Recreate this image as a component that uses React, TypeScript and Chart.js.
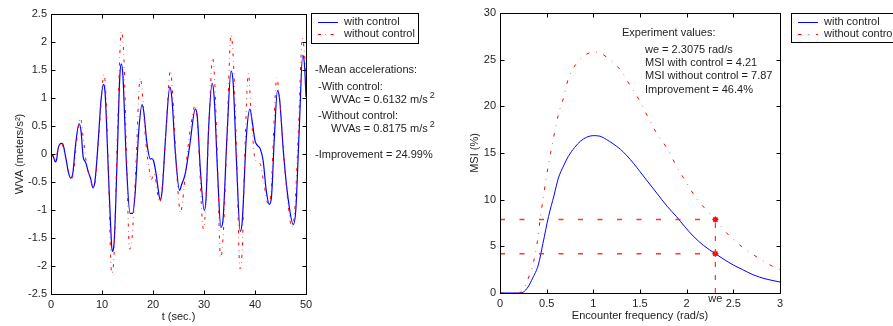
import React, { useEffect, useRef } from "react";
import { Chart, registerables } from "chart.js";

Chart.register(...registerables);

const FONT_FAMILY = "'Liberation Sans', Arial, Helvetica, sans-serif";
const INK = "#1e1e1e";
const BLUE = "#0000ff";
const RED = "#ff0000";

const seriesLabels = ["with control", "without control"];

// ---- Left panel: vertical wave accelerations ----
const timeWithControl = [
  0, 0.4, 0.85, 1.1, 1.4, 1.7, 2.0, 2.3, 2.6, 3.0, 3.4, 3.85, 4.3, 4.8, 5.5, 5.9, 6.3, 6.8, 7.25, 7.8,
  8.2, 8.6, 9.2, 9.8, 10.25, 10.6, 11.2, 11.7, 12.0, 12.4, 13.0, 13.5, 13.8, 14.1, 14.8, 15.5, 16.0, 16.5,
  17.2, 17.85, 18.2, 18.8, 19.5, 19.8, 20.1, 20.6, 21.0, 21.4, 21.8, 22.5, 23.3, 23.7, 24.4, 25.2, 25.6,
  26.3, 27.2, 28.3, 28.7, 29.3, 30.05, 30.4, 30.9, 31.6, 32.0, 32.7, 33.3, 33.7, 34.5, 35.3, 35.7, 36.4,
  37.1, 37.5, 38.3, 39.0, 39.5, 40.0, 40.5, 41.0, 41.6, 42.2, 42.8, 43.2, 43.8, 44.4, 44.8, 45.6, 46.5,
  47.5, 48.0, 48.7, 49.35, 49.7, 50.0,
];
const wvaWithControl = [
  0, -0.03, -0.14, -0.1, 0.1, 0.17, 0.19, 0.18, 0.08, -0.12, -0.32, -0.43, -0.33, 0.15, 0.54, 0.4, -0.05,
  -0.15, -0.3, -0.45, -0.6, -0.5, 0.15, 0.95, 1.24, 1.1, -0.2, -1.3, -1.74, -1.55, 0.0, 1.4, 1.61, 1.4,
  -0.2, -1.06, -1.06, -0.7, 0.4, 0.88, 0.75, 0.2, -0.09, -0.08, -0.12, -0.35, -0.62, -0.82, -0.65, 0.35,
  1.2, 1.0, 0.0, -0.65, -0.55, -0.36, 0.15, 0.8, 0.65, -0.3, -1.01, -0.8, 0.45, 1.26, 1.0, -0.4, -1.31,
  -1.2, 0.3, 1.48, 1.3, -0.2, -1.38, -1.2, 0.3, 0.8, 0.55, 0.24, 0.15, 0.1, -0.12, -0.65, -0.9, -0.8,
  0.3, 1.13, 1.0, 0.0, -0.8, -1.26, -1.0, 0.5, 1.76, 1.6, 1.02,
];
const timeWithoutControl = [
  0, 0.8, 1.5, 2.1, 2.8, 3.9, 4.5, 5.0, 5.8, 6.3, 7.0, 7.6, 8.3, 8.8, 9.5, 10.4, 10.8, 11.3, 11.9, 12.3,
  13.0, 13.8, 14.3, 14.8, 15.4, 15.9, 16.6, 17.5, 17.9, 18.6, 19.3, 19.6, 20.2, 21.3, 21.8, 22.6, 23.4,
  23.9, 24.7, 25.4, 25.8, 26.6, 27.4, 28.3, 28.8, 29.9, 30.4, 31.0, 31.7, 32.1, 32.6, 33.25, 33.8, 34.5,
  35.3, 35.8, 36.4, 37.05, 37.5, 38.0, 38.7, 39.2, 40.0, 41.0, 41.7, 42.7, 43.2, 43.7, 44.25, 44.8, 45.8,
  46.5, 47.2, 47.8, 48.5, 49.3, 49.7, 50.0,
];
const wvaWithoutControl = [
  0, -0.1, 0.12, 0.18, -0.05, -0.45, -0.3, 0.2, 0.64, 0.3, -0.2, -0.4, -0.62, -0.4, 0.5, 1.42, 1.0, -0.5,
  -2.13, -1.9, 0.3, 2.19, 1.7, 0.0, -1.7, -1.5, -0.3, 1.36, 1.1, 0.2, -0.3, -0.47, -0.35, -0.87, -0.6,
  0.5, 1.49, 1.0, -0.4, -1.05, -0.85, -0.1, 0.5, 0.87, 0.4, -1.34, -0.8, 0.6, 1.72, 1.3, 0.0, -1.85, -1.4,
  0.3, 2.13, 1.6, 0.0, -2.05, -1.7, 0.0, 1.44, 0.8, -0.09, -0.17, -0.5, -0.92, -0.6, 0.5, 1.36, 1.0,
  -0.2, -0.9, -1.3, -1.0, 0.4, 2.07, 1.8, 1.4,
];
const timeTicks = [0, 10, 20, 30, 40, 50];
const wvaTicks = [-2.5, -2, -1.5, -1, -0.5, 0, 0.5, 1, 1.5, 2, 2.5];
const meanNotes = [
  "-Mean accelerations:",
  "-With control:",
  "WVAc = 0.6132 m/s",
  "-Without control:",
  "WVAs = 0.8175 m/s",
  "-Improvement = 24.99%",
];

// ---- Right panel: motion sickness incidence ----
const freqWithControl = [
  0, 0.1, 0.2, 0.25, 0.3, 0.35, 0.41, 0.46, 0.52, 0.58, 0.625, 0.68, 0.73, 0.8, 0.86, 0.93, 1.0, 1.07,
  1.14, 1.21, 1.29, 1.36, 1.43, 1.5, 1.57, 1.68, 1.79, 1.89, 1.98, 2.07, 2.18, 2.3075, 2.4, 2.5, 2.6,
  2.71, 2.85, 3.0,
];
const msiWithControl = [
  0, 0, 0, 0.1, 0.64, 1.6, 3.0, 5.3, 8.2, 10.5, 12.3, 13.6, 14.6, 15.6, 16.25, 16.7, 16.86, 16.8, 16.45,
  16.0, 15.4, 14.7, 13.9, 13.0, 12.1, 10.7, 9.3, 8.2, 7.1, 6.1, 5.1, 4.21, 3.6, 3.0, 2.5, 1.96, 1.5, 1.18,
];
const freqWithoutControl = [
  0, 0.1, 0.2, 0.25, 0.3, 0.357, 0.4, 0.43, 0.46, 0.5, 0.55, 0.625, 0.686, 0.73, 0.82, 0.93, 1.0, 1.07,
  1.14, 1.21, 1.29, 1.39, 1.49, 1.59, 1.68, 1.79, 1.875, 1.98, 2.1, 2.21, 2.3075, 2.46, 2.64, 2.77, 2.95,
  3.0,
];
const msiWithoutControl = [
  0, 0, 0, 0.43, 1.5, 3.2, 5.5, 7.87, 10, 12.6, 15.4, 19.1, 21.1, 22.9, 24.6, 25.6, 25.8, 25.7, 25.3,
  24.7, 23.9, 22.3, 20.7, 18.75, 17.1, 15.5, 13.9, 12.1, 10.2, 8.9, 7.87, 6.1, 4.6, 3.75, 2.7, 2.5,
];
const freqTicks = [0, 0.5, 1, 1.5, 2, 2.5, 3];
const msiTicks = [0, 5, 10, 15, 20, 25, 30];
const weFrequency = 2.3075;
const msiAtWe = [4.21, 7.87];
const experimentNotes = [
  "Experiment values:",
  "we = 2.3075 rad/s",
  "MSI with control = 4.21",
  "MSI without control = 7.87",
  "Improvement = 46.4%",
];

const font = (size: number) => ({ family: FONT_FAMILY, size });

function framePlugin(legendX: number, legendY: number, legendW: number, legendH: number, sampleX: number, extra: (ctx: CanvasRenderingContext2D, chart: any) => void) {
  return {
    id: "matlabFrame",
    afterDraw(chart: any) {
      const ctx: CanvasRenderingContext2D = chart.ctx;
      const { left, right, top, bottom } = chart.chartArea;
      const xs = chart.scales.x;
      const ys = chart.scales.y;
      const L = Math.round(left) + 0.5;
      const R = Math.round(right) + 0.5;
      const T = Math.round(top) + 0.5;
      const B = Math.round(bottom) + 0.5;
      ctx.save();
      ctx.setLineDash([]);
      ctx.strokeStyle = "#000";
      ctx.lineWidth = 1;
      ctx.strokeRect(L, T, R - L, B - T);
      ctx.beginPath();
      xs.ticks.forEach((t: any) => {
        const px = Math.round(xs.getPixelForValue(t.value)) + 0.5;
        ctx.moveTo(px, B);
        ctx.lineTo(px, B - 4);
        ctx.moveTo(px, T);
        ctx.lineTo(px, T + 4);
      });
      ys.ticks.forEach((t: any) => {
        const py = Math.round(ys.getPixelForValue(t.value)) + 0.5;
        ctx.moveTo(L, py);
        ctx.lineTo(L + 4, py);
        ctx.moveTo(R, py);
        ctx.lineTo(R - 4, py);
      });
      ctx.stroke();

      // legend
      ctx.fillStyle = "#fff";
      ctx.fillRect(legendX, legendY, legendW, legendH);
      ctx.strokeStyle = "#000";
      ctx.strokeRect(legendX + 0.5, legendY + 0.5, legendW, legendH);
      seriesLabels.forEach((label, i) => {
        const ds = chart.data.datasets.find((d: any) => d.label === label);
        const y = legendY + 9 + i * 11.5;
        ctx.save();
        ctx.strokeStyle = ds.borderColor;
        ctx.lineWidth = 1;
        ctx.setLineDash(ds.borderDash || []);
        ctx.beginPath();
        ctx.moveTo(legendX + sampleX, Math.round(y) + 0.5);
        ctx.lineTo(legendX + sampleX + 20, Math.round(y) + 0.5);
        ctx.stroke();
        ctx.restore();
        ctx.fillStyle = INK;
        ctx.font = `11px ${FONT_FAMILY}`;
        ctx.textBaseline = "middle";
        ctx.textAlign = "left";
        ctx.fillText(label, legendX + sampleX + 26, y);
      });
      extra(ctx, chart);
      ctx.restore();
    },
  };
}

function drawSupText(ctx: CanvasRenderingContext2D, text: string, x: number, y: number) {
  ctx.font = `11px ${FONT_FAMILY}`;
  ctx.fillText(text, x, y);
  const w = ctx.measureText(text).width;
  ctx.font = `9px ${FONT_FAMILY}`;
  ctx.fillText("2", x + w + 2, y - 4);
  ctx.font = `11px ${FONT_FAMILY}`;
}

const baseScale = (ticks: number[], min: number, max: number, fit: (s: any) => void, title: any, pad: number) => ({
  type: "linear" as const,
  min,
  max,
  afterBuildTicks: (s: any) => {
    s.ticks = ticks.map((v) => ({ value: v }));
  },
  afterFit: fit,
  grid: { display: false, drawTicks: false },
  border: { display: false },
  ticks: {
    font: font(11),
    color: INK,
    padding: pad,
    maxRotation: 0,
    autoSkip: false,
    callback: (v: any) => String(v),
  },
  title,
});

export default function App() {
  const leftRef = useRef<HTMLCanvasElement | null>(null);
  const rightRef = useRef<HTMLCanvasElement | null>(null);

  useEffect(() => {
    document.body.style.margin = "0";
    const leftChart = new Chart(leftRef.current as HTMLCanvasElement, {
      type: "line",
      data: {
        datasets: [
          {
            label: seriesLabels[1],
            data: timeWithoutControl.map((t, i) => ({ x: t, y: wvaWithoutControl[i] })),
            borderColor: RED,
            borderWidth: 1,
            borderDash: [3, 4.5, 0.6, 4.5],
            pointRadius: 0,
            cubicInterpolationMode: "monotone",
            order: 0,
          },
          {
            label: seriesLabels[0],
            data: timeWithControl.map((t, i) => ({ x: t, y: wvaWithControl[i] })),
            borderColor: BLUE,
            borderWidth: 1.2,
            pointRadius: 0,
            cubicInterpolationMode: "monotone",
            order: 1,
          },
        ],
      } as any,
      options: {
        responsive: false,
        animation: false,
        devicePixelRatio: 1,
        events: [],
        layout: { padding: { left: 0, top: 14, right: 144, bottom: 0 } },
        plugins: { legend: { display: false }, tooltip: { enabled: false } },
        scales: {
          x: baseScale(timeTicks, 0, 50, (s) => { s.height = 32; }, { display: true, text: "t (sec.)", font: font(11), color: INK, padding: { top: 0, bottom: 2 } }, 4),
          y: baseScale(wvaTicks, -2.5, 2.5, (s) => { s.width = 51; }, { display: true, text: "WVA (meters/s²)", font: font(11), color: INK, padding: { top: 13, bottom: 0 } }, 4),
        },
      } as any,
      plugins: [
        framePlugin(311, 13, 107, 30, 7, (ctx) => {
          ctx.fillStyle = INK;
          ctx.textBaseline = "middle";
          ctx.textAlign = "left";
          ctx.font = `11px ${FONT_FAMILY}`;
          const xs = [315, 318, 331, 318, 331, 315];
          const ys = [70, 87, 100, 116, 129, 155];
          meanNotes.forEach((txt, i) => {
            if (txt.endsWith("m/s")) drawSupText(ctx, txt, xs[i], ys[i]);
            else ctx.fillText(txt, xs[i], ys[i]);
          });
        }),
      ],
    });

    const guideStyle = {
      borderColor: "rgba(255, 40, 40, 0.95)",
      backgroundColor: "rgba(255, 40, 40, 0.95)",
      borderWidth: 1.5,
      pointRadius: 0,
      order: 0,
    };

    const rightChart = new Chart(rightRef.current as HTMLCanvasElement, {
      type: "line",
      data: {
        datasets: [
          {
            label: seriesLabels[1],
            data: freqWithoutControl.map((f, i) => ({ x: f, y: msiWithoutControl[i] })),
            borderColor: RED,
            borderWidth: 1,
            borderDash: [3.5, 7, 0.6, 7],
            pointRadius: 0,
            cubicInterpolationMode: "monotone",
            order: 1,
          },
          {
            label: seriesLabels[0],
            data: freqWithControl.map((f, i) => ({ x: f, y: msiWithControl[i] })),
            borderColor: BLUE,
            borderWidth: 1,
            pointRadius: 0,
            cubicInterpolationMode: "monotone",
            order: 2,
          },
          {
            label: "guide without",
            data: [{ x: 0, y: msiAtWe[1] }, { x: weFrequency, y: msiAtWe[1] }],
            borderDash: [5, 14.5],
            ...guideStyle,
          },
          {
            label: "guide with",
            data: [{ x: 0, y: msiAtWe[0] }, { x: weFrequency, y: msiAtWe[0] }],
            borderDash: [5, 14.5],
            ...guideStyle,
          },
          {
            label: "guide we",
            data: [{ x: weFrequency, y: 0 }, { x: weFrequency, y: msiAtWe[1] }],
            borderDash: [5, 8],
            ...guideStyle,
            borderWidth: 1.2,
          },
          {
            label: "marks",
            data: msiAtWe.map((m) => ({ x: weFrequency, y: m })),
            showLine: false,
            pointStyle: "star",
            pointRadius: 3,
            borderColor: RED,
            backgroundColor: RED,
            pointBorderWidth: 1.5,
            order: 0,
          },
        ],
      } as any,
      options: {
        responsive: false,
        animation: false,
        devicePixelRatio: 1,
        events: [],
        layout: { padding: { left: 0, top: 13, right: 113, bottom: 0 } },
        plugins: { legend: { display: false }, tooltip: { enabled: false } },
        scales: {
          x: baseScale(freqTicks, 0, 3, (s) => { s.height = 33; }, { display: true, text: "Encounter frequency (rad/s)", font: font(11), color: INK, padding: { top: 0, bottom: 3 } }, 4),
          y: baseScale(msiTicks, 0, 30, (s) => { s.width = 50; }, { display: true, text: "MSI (%)", font: font(11), color: INK, padding: { top: 18, bottom: 0 } }, 4),
        },
      } as any,
      plugins: [
        framePlugin(341, 13, 120, 29, 7, (ctx, chart) => {
          ctx.fillStyle = INK;
          ctx.textBaseline = "middle";
          ctx.textAlign = "left";
          ctx.font = `11px ${FONT_FAMILY}`;
          const xs = [172, 195, 195, 195, 195];
          const ys = [33, 49.5, 62.5, 75.5, 89.5];
          experimentNotes.forEach((txt, i) => ctx.fillText(txt, xs[i], ys[i]));
          const wx = chart.scales.x.getPixelForValue(weFrequency);
          ctx.textAlign = "center";
          ctx.fillText("we", wx, 299);
        }),
      ],
    });

    return () => {
      leftChart.destroy();
      rightChart.destroy();
    };
  }, []);

  return (
    <div style={{ position: "relative", width: 893, height: 326, background: "#fff", overflow: "hidden" }}>
      <canvas ref={leftRef} width={450} height={326} style={{ position: "absolute", left: 0, top: 0 }} />
      <canvas ref={rightRef} width={443} height={326} style={{ position: "absolute", left: 450, top: 0 }} />
    </div>
  );
}
